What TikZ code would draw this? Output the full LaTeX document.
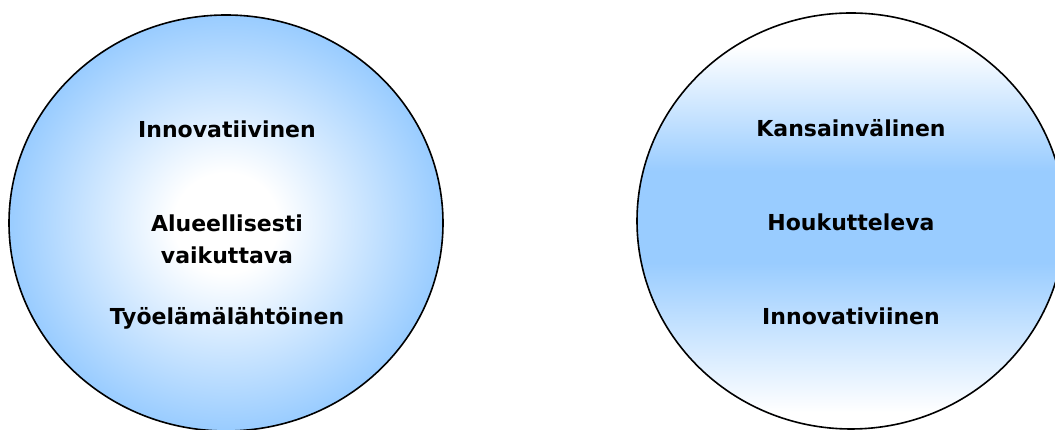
\documentclass[tikz,border=0pt]{standalone}
\usepackage{fontspec}
\setmainfont{DejaVu Sans}
\usepackage{xcolor}
\usetikzlibrary{positioning}

\definecolor{skyblue}{HTML}{99CCFF}
\pgfdeclareradialshading{glow}{\pgfpoint{0bp}{0bp}}{color(0bp)=(white); color(6bp)=(white); color(25bp)=(skyblue); color(50bp)=(skyblue)}
\pgfdeclareverticalshading{band}{100bp}{color(0bp)=(white); color(27bp)=(white); color(45bp)=(skyblue); color(56bp)=(skyblue); color(71bp)=(white); color(100bp)=(white)}

\begin{document}
\begin{tikzpicture}[x=1pt, y=1pt,
    label/.style={font=\fontsize{22}{32}\selectfont\bfseries, align=center, inner sep=0pt}]
        \useasboundingbox (0, 0) rectangle (1055, 430);
        \clip (0, 0) rectangle (1055, 430);

        % Define centres
        \coordinate (L) at (226, 207);
        \coordinate (R) at (851, 209);

        % Left circle
        \draw[line width=1.6pt, shading=glow] (L) ellipse [x radius=217, y radius=208];

        % Right circle
        \draw[line width=1.6pt, shading=band] (R) ellipse [x radius=214, y radius=208];

        % Left labels
        \node[label, anchor=base] (inno) at (227, 292) {Innovatiivinen};
        \node[label] (alue) at (227, 191) {Alueellisesti\\vaikuttava};
        \node[label, anchor=base] (tyo) at (227, 105) {Työelämälähtöinen};

        % Right labels
        \node[label, anchor=base] (kans) at (851, 293) {Kansainvälinen};
        \node[label, anchor=base] (houk) at (851, 199) {Houkutteleva};
        \node[label, anchor=base] (innov) at (851, 105) {Innovativiinen};

    \end{tikzpicture}
\end{document}
